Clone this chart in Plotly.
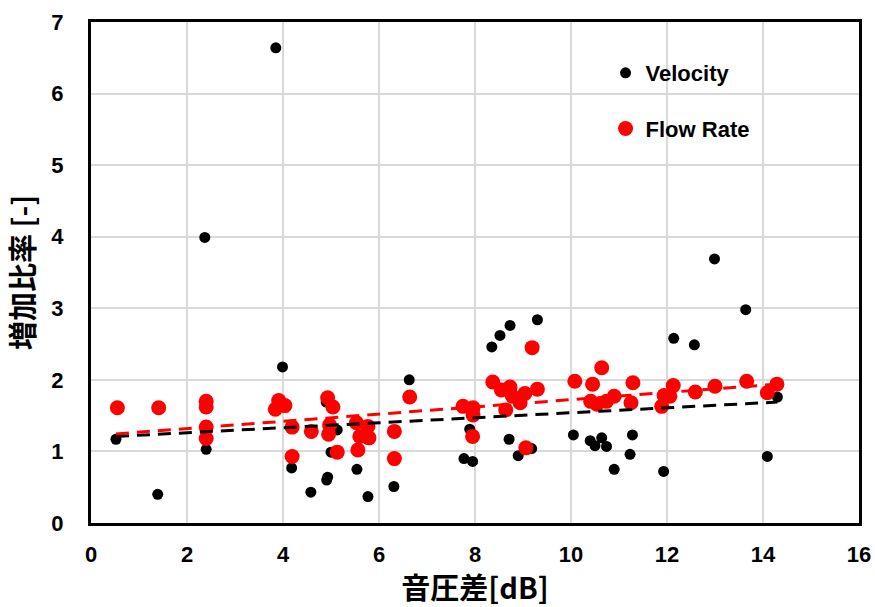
import plotly.graph_objects as go

# Velocity (black)
vel_x = [0.52, 1.39, 2.37, 2.40, 3.85, 3.99, 4.18, 4.58, 4.91, 4.93, 5.00, 4.90, 5.13,
         5.54, 5.77, 6.31, 6.63, 7.77, 7.95, 7.89, 8.35, 8.52, 8.73, 9.30, 8.71, 8.90,
         9.18, 10.05, 10.40, 10.50, 10.64, 10.74, 10.90, 11.23, 11.28, 11.93, 12.14,
         12.57, 12.99, 13.64, 14.09, 14.30]
vel_y = [1.17, 0.40, 3.99, 1.03, 6.64, 2.18, 0.77, 0.43, 0.60, 0.64, 0.99, 1.69, 1.30,
         0.75, 0.37, 0.51, 2.00, 0.90, 0.86, 1.31, 2.46, 2.62, 2.76, 2.84, 1.17, 0.94,
         1.04, 1.23, 1.15, 1.08, 1.19, 1.07, 0.75, 0.96, 1.23, 0.72, 2.58, 2.49, 3.69,
         2.98, 0.93, 1.76]

# Flow Rate (red)
flow_x = [0.55, 1.41, 2.40, 2.40, 2.40, 2.40, 3.91, 3.84, 4.04, 4.19, 4.19, 4.59,
          4.93, 5.04, 4.95, 4.97, 5.13, 5.53, 5.60, 5.56, 5.79, 5.77, 6.32, 6.32, 6.64,
          7.75, 7.96, 7.96, 7.95, 8.37, 8.55, 8.73, 8.78, 8.64, 8.94, 9.04, 9.30, 9.19,
          9.06, 10.08, 10.45, 10.64, 10.41, 10.54, 10.74, 10.90, 11.29, 11.25, 11.89,
          11.94, 12.13, 12.06, 12.59, 13.00, 13.66, 14.09, 14.29]
flow_y = [1.61, 1.61, 1.70, 1.62, 1.34, 1.18, 1.71, 1.59, 1.64, 1.34, 0.93, 1.28,
          1.75, 1.62, 1.24, 1.37, 0.99, 1.40, 1.21, 1.02, 1.19, 1.35, 1.28, 0.90, 1.76,
          1.63, 1.61, 1.51, 1.21, 1.97, 1.86, 1.90, 1.77, 1.58, 1.68, 1.81, 1.87, 2.45,
          1.05, 1.98, 1.94, 2.17, 1.70, 1.66, 1.70, 1.77, 1.96, 1.68, 1.63, 1.78, 1.92,
          1.77, 1.83, 1.91, 1.98, 1.82, 1.94]

# Linear trend lines
trend_x = [0.52, 14.30]
vel_trend = [1.21, 1.69]
flow_trend = [1.245, 1.94]

x_ticks = [0, 2, 4, 6, 8, 10, 12, 14, 16]
y_ticks = [0, 1, 2, 3, 4, 5, 6, 7]

fig = go.Figure()
fig.add_trace(go.Scatter(x=vel_x, y=vel_y, mode="markers", name="Velocity",
                         legendgroup="v",
                         marker=dict(color="black", size=11)))
fig.add_trace(go.Scatter(x=flow_x, y=flow_y, mode="markers", name="Flow Rate",
                         legendgroup="f",
                         marker=dict(color="#ff0000", size=15)))
fig.add_trace(go.Scatter(x=trend_x, y=vel_trend, mode="lines", showlegend=False,
                         line=dict(color="black", width=3, dash="13px,8px")))
fig.add_trace(go.Scatter(x=trend_x, y=flow_trend, mode="lines", showlegend=False,
                         line=dict(color="#ff0000", width=3, dash="13px,8px")))

tick_font = dict(family="Liberation Sans, Arial", size=22, color="black", weight="bold")
title_font = dict(family="Noto Sans CJK JP, Liberation Sans", size=29, color="black", weight="bold")

fig.update_layout(
    width=875, height=607,
    margin=dict(l=91, r=16, t=22, b=84),
    paper_bgcolor="white", plot_bgcolor="white",
    showlegend=True,
    legend=dict(x=0.67, y=0.94, xanchor="left", yanchor="top",
                font=dict(family="Liberation Sans, Arial", size=22, color="black", weight="bold"),
                bgcolor="rgba(0,0,0,0)", tracegroupgap=24),
    xaxis=dict(range=[0, 16], tickvals=x_ticks, ticktext=[str(v) for v in x_ticks],
               showgrid=True, gridcolor="#d9d9d9", gridwidth=1.5,
               showline=True, linecolor="black", linewidth=3, mirror=True,
               ticks="", tickfont=tick_font, ticklabelstandoff=10,
               zeroline=False, automargin=False,
               title=dict(text="音圧差[dB]", font=title_font, standoff=4)),
    yaxis=dict(range=[0, 7], tickvals=y_ticks, ticktext=[str(v) for v in y_ticks],
               showgrid=True, gridcolor="#d9d9d9", gridwidth=1.5,
               showline=True, linecolor="black", linewidth=3, mirror=True,
               ticks="", tickfont=tick_font, ticklabelstandoff=20,
               zeroline=False, automargin=False,
               title=dict(text="増加比率 [-]", font=title_font, standoff=10)),
)

fig.write_html("out.html")
